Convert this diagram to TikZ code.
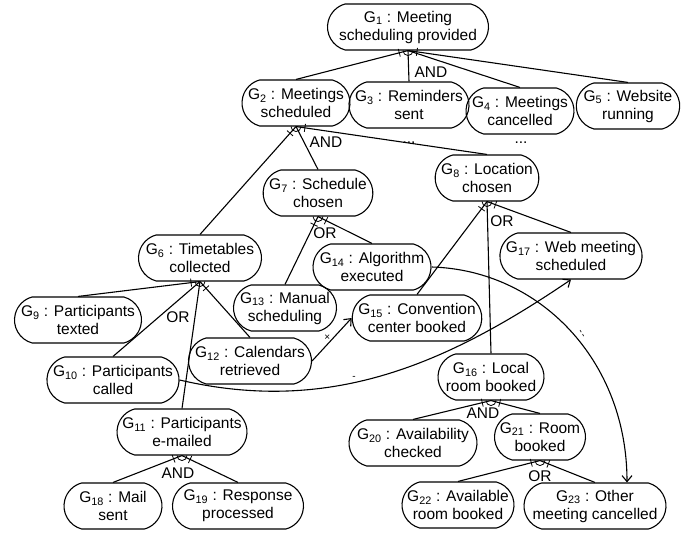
\documentclass[tikz,border=0pt]{standalone}
\usepackage{fontspec}
\setmainfont{Liberation Sans}
\usetikzlibrary{arrows.meta,decorations.markings,shapes.misc}
\newcommand{\gid}[1]{G\textsubscript{#1}}

\begin{document}
\begin{tikzpicture}[x=1pt, y=-1pt,
        goal/.style={draw, line width=1.1, rounded rectangle, rounded rectangle arc length=150,
          align=center, minimum height=46pt, inner xsep=1pt, inner ysep=1pt,
          font=\fontsize{15.5}{18}\selectfont},
        reflabel/.style={inner sep=0pt, font=\fontsize{15.5}{18}\selectfont},
        sign/.style={inner sep=0pt, font=\fontsize{10}{10}\selectfont},
        link/.style={line width=1.1},
        outertick/.style={postaction={decorate}, decoration={markings,
          mark=at position 9pt with {\draw[line width=0.8] (0,-4pt) -- (0,4pt);}}},
        contrib/.style={line width=1.1, -{Straight Barb[length=6pt, width=10pt]}}]
        \useasboundingbox (0,0) rectangle (699,534);

        \node[goal, minimum width=163pt] (g1) at (408,27) {\gid{1} : Meeting\\scheduling provided};
        \node[goal, minimum width=103pt] (g2) at (296,103) {\gid{2} : Meetings\\scheduled};
        \node[goal, minimum width=112pt] (g3) at (409,105) {\gid{3} : Reminders\\sent};
        \node[goal, minimum width=105pt] (g4) at (520,111) {\gid{4} : Meetings\\cancelled};
        \node[goal, minimum width=100pt] (g5) at (628,106) {\gid{5} : Website\\running};
        \node[goal, minimum width=125pt] (g6) at (200,258) {\gid{6} : Timetables\\collected};
        \node[goal, minimum width=107pt] (g7) at (318,193) {\gid{7} : Schedule\\chosen};
        \node[goal, minimum width=100pt] (g8) at (487,178) {\gid{8} : Location\\chosen};
        \node[goal, minimum width=129pt] (g9) at (78,320) {\gid{9} : Participants\\texted};
        \node[goal, minimum width=125pt] (g10) at (113,380) {\gid{10} : Participants\\called};
        \node[goal, minimum width=132pt] (g11) at (182,432) {\gid{11} : Participants\\e-mailed};
        \node[goal, minimum width=125pt] (g12) at (250,361) {\gid{12} : Calendars\\retrieved};
        \node[goal, minimum width=105pt] (g13) at (285,308) {\gid{13} : Manual\\scheduling};
        \node[goal, minimum width=120pt] (g14) at (372,267) {\gid{14} : Algorithm\\executed};
        \node[goal, minimum width=127pt] (g15) at (417,318) {\gid{15} : Convention\\center booked};
        \node[goal, minimum width=108pt] (g16) at (491,377) {\gid{16} : Local\\room booked};
        \node[goal, minimum width=142pt] (g17) at (571,256) {\gid{17} : Web meeting\\scheduled};
        \node[goal, minimum width=100pt] (g18) at (113,506) {\gid{18} : Mail\\sent};
        \node[goal, minimum width=133pt] (g19) at (238,506) {\gid{19} : Response\\processed};
        \node[goal, minimum width=130pt] (g20) at (413,443) {\gid{20} : Availability\\checked};
        \node[goal, minimum width=93pt] (g21) at (540,437) {\gid{21} : Room\\booked};
        \node[goal, minimum width=114pt] (g22) at (458,505) {\gid{22} : Available\\room booked};
        \node[goal, minimum width=144pt] (g23) at (595,506) {\gid{23} : Other\\meeting cancelled};

        \foreach \pa/\ch in {g1/g2, g1/g3, g1/g4, g1/g5, g2/g6, g2/g7, g2/g8,
          g7/g13, g7/g14, g8/g15, g8/g16, g8/g17, g6/g9, g6/g10, g6/g11, g6/g12,
          g11/g18, g11/g19, g16/g20, g16/g21, g21/g22, g21/g23} {
          \draw[link] (\pa.south) -- (\ch.north);
        };
        \foreach \pa/\ch in {g1/g2, g1/g5, g2/g6, g2/g8, g7/g13, g7/g14, g8/g15, g8/g17,
          g6/g9, g6/g12, g11/g18, g11/g19, g16/g20, g16/g21, g21/g22, g21/g23} {
          \path[outertick] (\pa.south) -- (\ch.north);
        };
        \foreach \pa in {g1, g2, g6, g7, g8, g11, g16, g21} {
          \draw[line width=0.8] (\pa.south) ++(5,0) arc[start angle=0, end angle=180, radius=5];
        };

        \node[reflabel] (and1) at (431,72) {AND};
        \node[reflabel] (and2) at (326,142) {AND};
        \node[reflabel] (or7) at (325,233) {OR};
        \node[reflabel] (or8) at (502,221) {OR};
        \node[reflabel] (or6) at (178,317) {OR};
        \node[reflabel] (and11) at (178,473) {AND};
        \node[reflabel] (and16) at (483,413) {AND};
        \node[reflabel] (or21) at (540,476) {OR};
        \node[reflabel] (dots3) at (409,143) {...};
        \node[reflabel] (dots4) at (521,143) {...};

        \draw[contrib] (g12.east) -- node[sign, pos=0.55, left=3pt] {×} (g15.west);
        \draw[contrib] (g10.east) .. controls +(150,35) and +(-125,85) .. (g17.south)
          node[sign, pos=0.42, above=3pt] {-};
        \draw[contrib] (g14.east) .. controls +(108,3) and +(0,-122) .. ([xshift=32pt]g23.north)
          node[sign, pos=0.5, right=9pt, rotate=-60] {-\,-};
      \end{tikzpicture}
\end{document}
